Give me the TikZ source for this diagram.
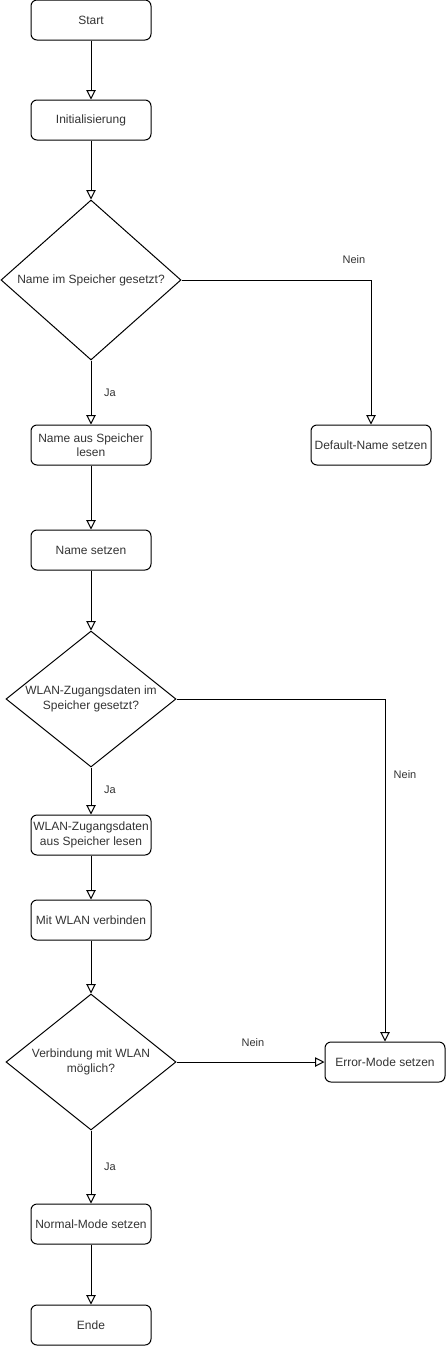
\documentclass[tikz,border=0pt]{standalone}
\usepackage{fontspec}
\setmainfont{Liberation Sans}
\usetikzlibrary{shapes.geometric,arrows.meta}

\begin{document}
\begin{tikzpicture}[
    x=0.75pt, y=-0.75pt,
    line width=0.75pt,
    step box/.style={rectangle, draw, rounded corners=4.5pt, minimum width=90pt,
                minimum height=30pt, align=center, inner sep=1pt,
                font=\fontsize{9}{10.8}\selectfont, text=black!80},
    dec/.style={diamond, draw, inner sep=0pt},
    dectext/.style={align=center, inner sep=0pt, font=\fontsize{9}{10.8}\selectfont, text=black!80},
    lbl/.style={font=\fontsize{8.25}{10}\selectfont, text=black!80, inner sep=0pt},
    flow/.style={-{Triangle[open, width=7pt, length=7pt]}}
]
    \useasboundingbox (0,0) rectangle (447,1346);

    \node[step box] (start) at (91, 20) {Start};
    \node[step box] (init) at (91, 120) {Initialisierung};

    \node[dec, minimum width=135pt, minimum height=120pt] (q1) at (91, 280) {};
    \node[dectext] (q1t) at (q1) {Name im Speicher gesetzt?};
    \node[step box] (nread) at (91, 445) {Name aus Speicher\\lesen};
    \node[step box] (ndef) at (371, 445) {Default-Name setzen};
    \node[step box] (nset) at (91, 550) {Name setzen};

    \node[dec, minimum width=127.5pt, minimum height=102pt] (q2) at (91, 699) {};
    \node[dectext] (q2t) at (q2) {WLAN-Zugangsdaten im\\Speicher gesetzt?};
    \node[step box] (wread) at (91, 835) {WLAN-Zugangsdaten\\aus Speicher lesen};
    \node[step box] (wcon) at (91, 920) {Mit WLAN verbinden};

    \node[dec, minimum width=127.5pt, minimum height=102pt] (q3) at (91, 1062) {};
    \node[dectext] (q3t) at (q3) {Verbindung mit WLAN\\möglich?};
    \node[step box] (err) at (385, 1062) {Error-Mode setzen};
    \node[step box] (norm) at (91, 1224) {Normal-Mode setzen};
    \node[step box] (ende) at (91, 1325) {Ende};

    \draw[flow] (start) -- (init);
    \draw[flow] (init) -- (q1);
    \draw[flow] (q1) -- (nread);
    \draw[flow] (q1.east) -| (ndef);
    \draw[flow] (nread) -- (nset);
    \draw[flow] (nset) -- (q2);
    \draw[flow] (q2) -- (wread);
    \draw[flow] (q2.east) -| (err);
    \draw[flow] (wread) -- (wcon);
    \draw[flow] (wcon) -- (q3);
    \draw[flow] (q3) -- (err);
    \draw[flow] (q3) -- (norm);
    \draw[flow] (norm) -- (ende);

    \node[lbl] (l1n) at (354, 260) {Nein};
    \node[lbl] (l1j) at (110, 393) {Ja};
    \node[lbl] (l2n) at (405, 775) {Nein};
    \node[lbl] (l2j) at (110, 790) {Ja};
    \node[lbl] (l3n) at (253, 1043) {Nein};
    \node[lbl] (l3j) at (110, 1167) {Ja};
\end{tikzpicture}
\end{document}
